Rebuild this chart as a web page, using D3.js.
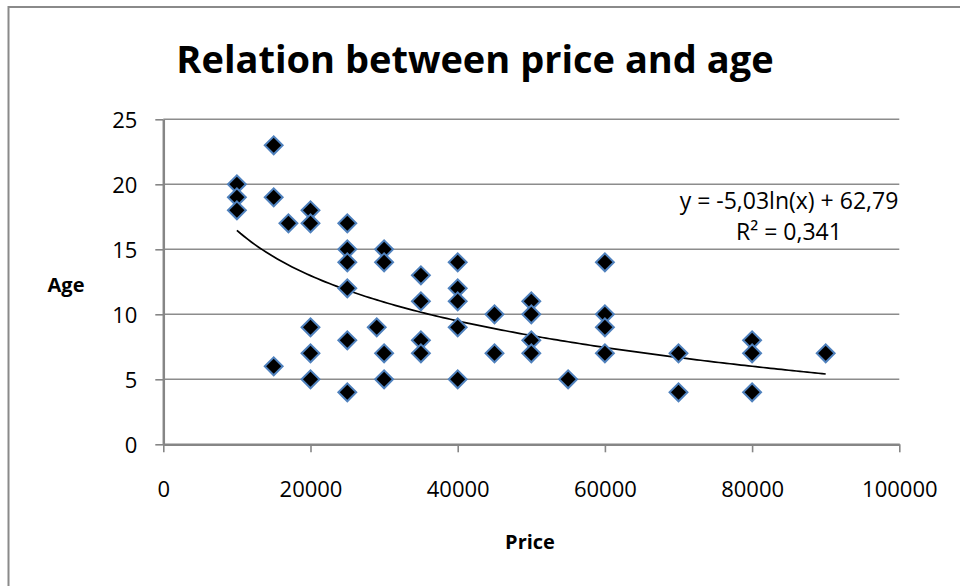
<!DOCTYPE html>
<html>
<head>
<meta charset="utf-8">
<script src="https://cdn.jsdelivr.net/npm/d3@7/dist/d3.min.js"></script>
<style>
  html, body { margin: 0; padding: 0; background: #fff; }
  svg { display: block; }
</style>
</head>
<body>
<svg id="chart" width="960" height="586"></svg>
<script>
// ---- Data ----
const prices = [
  10000, 10000, 10000,
  15000, 15000, 15000,
  17000,
  20000, 20000, 20000, 20000, 20000,
  25000, 25000, 25000, 25000, 25000, 25000,
  29000,
  30000, 30000, 30000, 30000,
  35000, 35000, 35000, 35000,
  40000, 40000, 40000, 40000, 40000,
  45000, 45000,
  50000, 50000, 50000, 50000,
  55000,
  60000, 60000, 60000, 60000,
  70000, 70000,
  80000, 80000, 80000,
  90000
];
const ages = [
  20, 19, 18,
  23, 19, 6,
  17,
  18, 17, 9, 7, 5,
  17, 15, 14, 12, 8, 4,
  9,
  15, 14, 7, 5,
  13, 11, 8, 7,
  14, 12, 11, 9, 5,
  10, 7,
  11, 10, 8, 7,
  5,
  14, 10, 9, 7,
  7, 4,
  8, 7, 4,
  7
];
const xTicks = [0, 20000, 40000, 60000, 80000, 100000];
const yTicks = [0, 5, 10, 15, 20, 25];
const trendCoef = [-5.03, 62.79];           // y = a ln(x) + b
const trendRange = [10000, 90000];
const titleText = "Relation between price and age";
const xTitle = "Price";
const yTitle = "Age";
const eqLines = ["y = -5,03ln(x) + 62,79", "R\u00B2 = 0,341"];

// ---- Drawing ----
const svg = d3.select("#chart");
const FONT = "'Open Sans', 'Noto Sans', sans-serif";

// chart frame (extends beyond the viewport on right/bottom)
svg.append("rect")
  .attr("x", 8.5).attr("y", 7)
  .attr("width", 1000).attr("height", 700)
  .attr("fill", "#fff")
  .attr("stroke", "#8a8a8a").attr("stroke-width", 2);

const x = d3.scaleLinear().domain([0, 100000]).range([163.3, 899.3]);
const y = d3.scaleLinear().domain([0, 25]).range([444.3, 119.3]);

// gridlines
svg.append("g").selectAll("line")
  .data(yTicks.filter(d => d > 0))
  .join("line")
  .attr("x1", x(0)).attr("x2", x(100000))
  .attr("y1", d => y(d)).attr("y2", d => y(d))
  .attr("stroke", "#8c8c8c").attr("stroke-width", 1.4);

// y axis
const yAxis = svg.append("g")
  .attr("transform", `translate(${x(0)},0)`)
  .call(d3.axisLeft(y).tickValues(yTicks).tickSize(8).tickPadding(18).tickSizeOuter(0));
yAxis.select(".domain").attr("stroke", "#868686").attr("stroke-width", 2.5);
yAxis.selectAll(".tick line").attr("stroke", "#868686").attr("stroke-width", 1.6);
yAxis.selectAll(".tick text")
  .attr("font-family", FONT).attr("font-size", 22).attr("fill", "#000")
  .attr("dy", "0.36em");

// x axis
const xAxis = svg.append("g")
  .attr("transform", `translate(0,${y(0)})`)
  .call(d3.axisBottom(x).tickValues(xTicks).tickSize(8).tickSizeOuter(0).tickFormat(d3.format("d")));
xAxis.select(".domain").attr("stroke", "#868686").attr("stroke-width", 2.5);
xAxis.selectAll(".tick line").attr("stroke", "#868686").attr("stroke-width", 1.6);
xAxis.selectAll(".tick text")
  .attr("font-family", FONT).attr("font-size", 22).attr("fill", "#000")
  .attr("y", 45).attr("dy", "0.36em");

// trendline
const trendPts = d3.range(trendRange[0], trendRange[1] + 1, 500)
  .map(v => [v, trendCoef[0] * Math.log(v) + trendCoef[1]]);
svg.append("path")
  .datum(trendPts)
  .attr("fill", "none")
  .attr("stroke", "#000")
  .attr("stroke-width", 1.7)
  .attr("d", d3.line().x(d => x(d[0])).y(d => y(d[1])));

// points (diamonds)
const square = d3.symbol().type(d3.symbolSquare).size(160);
svg.append("g").selectAll("path")
  .data(prices.map((p, i) => [p, ages[i]]))
  .join("path")
  .attr("transform", d => `translate(${x(d[0])},${y(d[1])}) rotate(45)`)
  .attr("d", square)
  .attr("fill", "#000")
  .attr("stroke", "#4f81bd")
  .attr("stroke-width", 2);

// trend equation
svg.append("g").selectAll("text")
  .data(eqLines)
  .join("text")
  .attr("x", 789)
  .attr("y", (d, i) => 201 + i * 31)
  .attr("dy", "0.36em")
  .attr("text-anchor", "middle")
  .attr("font-family", FONT)
  .attr("font-size", 23)
  .attr("fill", "#000")
  .text(d => d);

// title
svg.append("text")
  .attr("x", 475).attr("y", 73)
  .attr("text-anchor", "middle")
  .attr("font-family", FONT)
  .attr("font-weight", "bold")
  .attr("font-size", 38)
  .attr("fill", "#000")
  .text(titleText);

// axis titles
svg.append("text")
  .attr("x", 530).attr("y", 542)
  .attr("dy", "0.36em")
  .attr("text-anchor", "middle")
  .attr("font-family", FONT).attr("font-weight", "bold").attr("font-size", 20)
  .attr("fill", "#000")
  .text(xTitle);

svg.append("text")
  .attr("x", 66).attr("y", 285)
  .attr("dy", "0.36em")
  .attr("text-anchor", "middle")
  .attr("font-family", FONT).attr("font-weight", "bold").attr("font-size", 20)
  .attr("fill", "#000")
  .text(yTitle);
</script>
</body>
</html>
